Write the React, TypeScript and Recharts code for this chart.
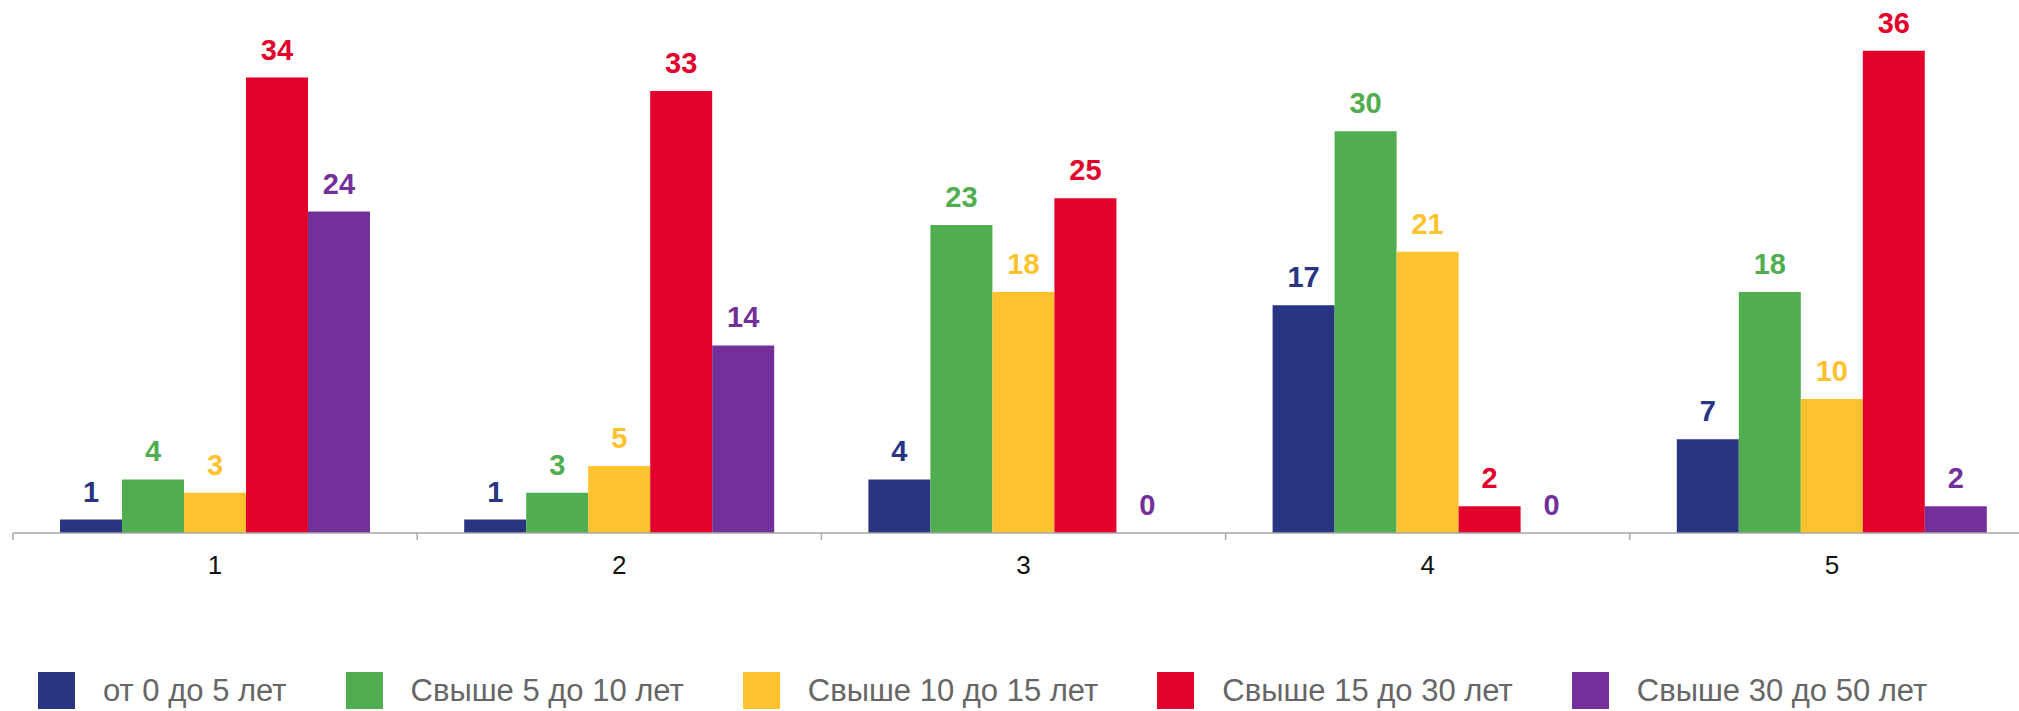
import { BarChart, Bar, XAxis, YAxis, Legend, LabelList } from 'recharts';

const groups = ['1', '2', '3', '4', '5'];
const upTo5 = [1, 1, 4, 17, 7];
const from5to10 = [4, 3, 23, 30, 18];
const from10to15 = [3, 5, 18, 21, 10];
const from15to30 = [34, 33, 25, 2, 36];
const from30to50 = [24, 14, 0, 0, 2];

const seriesNames = ['от 0 до 5 лет', 'Свыше 5 до 10 лет', 'Свыше 10 до 15 лет', 'Свыше 15 до 30 лет', 'Свыше 30 до 50 лет'];
const seriesKeys = ['a', 'b', 'c', 'd', 'e'];
const seriesColors = ['#283583', '#50ae50', '#fec22e', '#e3002b', '#73309b'];

const chartData = groups.map((g, i) => ({
  group: g,
  a: upTo5[i],
  b: from5to10[i],
  c: from10to15[i],
  d: from15to30[i],
  e: from30to50[i],
}));

const CHART_W = 2040;
const CHART_H = 711;
const M_LEFT = 13;
const M_RIGHT = 6;
const BAND = (CHART_W - M_LEFT - M_RIGHT) / groups.length;
const FONT = '"Liberation Sans", Arial, sans-serif';

function GroupTick(props: any) {
  const { x, y, payload, index } = props;
  const left = x - BAND / 2;
  return (
    <g>
      <line x1={left} y1={y} x2={left} y2={y + 7} stroke="#a6a6a6" strokeWidth={1.5} />
      {index === groups.length - 1 && (
        <line x1={x + BAND / 2} y1={y} x2={x + BAND / 2} y2={y + 7} stroke="#a6a6a6" strokeWidth={1.5} />
      )}
      <text x={x} y={y + 32} textAnchor="middle" dominantBaseline="central" fontSize={26} fill="#111" fontFamily={FONT}>
        {payload.value}
      </text>
    </g>
  );
}

// value label drawn by hand so zero bars still get their "0"
const valueLabel = (color: string) => (props: any) => {
  const { x, y, width, value } = props;
  if (x == null || y == null) return null;
  return (
    <text
      x={Number(x) + Number(width) / 2}
      y={Number(y) - 18}
      textAnchor="middle"
      fill={color}
      fontSize={29}
      fontWeight="bold"
      fontFamily={FONT}
    >
      {String(value)}
    </text>
  );
};

function LegendRow() {
  return (
    <div style={{ display: 'flex', alignItems: 'center', paddingLeft: 38, fontFamily: FONT }}>
      {seriesNames.map((name, i) => (
        <div key={name} style={{ display: 'flex', alignItems: 'center', marginRight: 59 }}>
          <div style={{ width: 37, height: 37, background: seriesColors[i], marginRight: 28 }} />
          <span style={{ fontSize: 31, color: '#666', whiteSpace: 'nowrap' }}>{name}</span>
        </div>
      ))}
    </div>
  );
}

export default function App() {
  return (
    <div style={{ position: 'absolute', left: 0, top: 0, width: 2019, height: 711, overflow: 'hidden', background: '#fff' }}>
      <BarChart
        width={CHART_W}
        height={CHART_H}
        data={chartData}
        margin={{ top: 24, right: M_RIGHT, bottom: 118, left: M_LEFT }}
        barCategoryGap={47}
        barGap={0}
      >
        <XAxis
          dataKey="group"
          height={60}
          axisLine={{ stroke: '#a6a6a6', strokeWidth: 1.5 }}
          tickLine={false}
          tickSize={0}
          tickMargin={0}
          tick={<GroupTick />}
          interval={0}
        />
        <YAxis hide domain={[0, 38]} />
        <Legend
          verticalAlign="middle"
          align="center"
          layout="horizontal"
          wrapperStyle={{ left: 0, top: 672, width: 2019 }}
          content={() => <LegendRow />}
        />
        {seriesKeys.map((k, i) => (
          <Bar key={k} dataKey={k} name={seriesNames[i]} fill={seriesColors[i]} minPointSize={0.01} isAnimationActive={false}>
            <LabelList dataKey={k} position="top" content={valueLabel(seriesColors[i])} />
          </Bar>
        ))}
      </BarChart>
    </div>
  );
}
